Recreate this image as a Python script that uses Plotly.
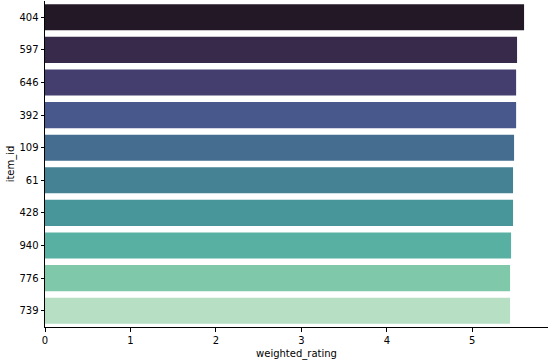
import plotly.graph_objects as go

item_ids = ["404", "597", "646", "392", "109", "61", "428", "940", "776", "739"]
weighted_rating = [5.606, 5.524, 5.513, 5.513, 5.489, 5.477, 5.477, 5.454, 5.442, 5.442]
bar_colors = ["#231826", "#382a4a", "#433e6e", "#48588c", "#456d90",
              "#458294", "#48969a", "#57b0a2", "#7fc8aa", "#b6dfc4"]

fig = go.Figure()
fig.add_trace(go.Bar(
    x=weighted_rating,
    y=item_ids,
    orientation="h",
    width=0.8,
    marker=dict(color=bar_colors, line=dict(width=0)),
    hoverinfo="x+y",
))

font = dict(family="DejaVu Sans", size=10, color="#000000")
fig.update_layout(
    width=549, height=362,
    margin=dict(l=45, r=1, t=1, b=35),
    paper_bgcolor="white", plot_bgcolor="white",
    font=font,
    showlegend=False,
    xaxis=dict(
        range=[0, 5.886],
        tickvals=[0, 1, 2, 3, 4, 5],
        showgrid=False, zeroline=False,
        showline=True, linecolor="#000000", linewidth=1,
        ticks="outside", ticklen=3.5, tickwidth=0.8, tickcolor="#000000",
        title=dict(text="weighted_rating", font=font, standoff=5),
    ),
    yaxis=dict(
        type="category",
        categoryorder="array", categoryarray=item_ids,
        range=[9.5, -0.5],
        showgrid=False, zeroline=False,
        showline=True, linecolor="#000000", linewidth=1,
        ticks="outside", ticklen=3.5, tickwidth=0.8, tickcolor="#000000",
        title=dict(text="item_id", font=font, standoff=2),
    ),
)

fig.write_html("out.html")
